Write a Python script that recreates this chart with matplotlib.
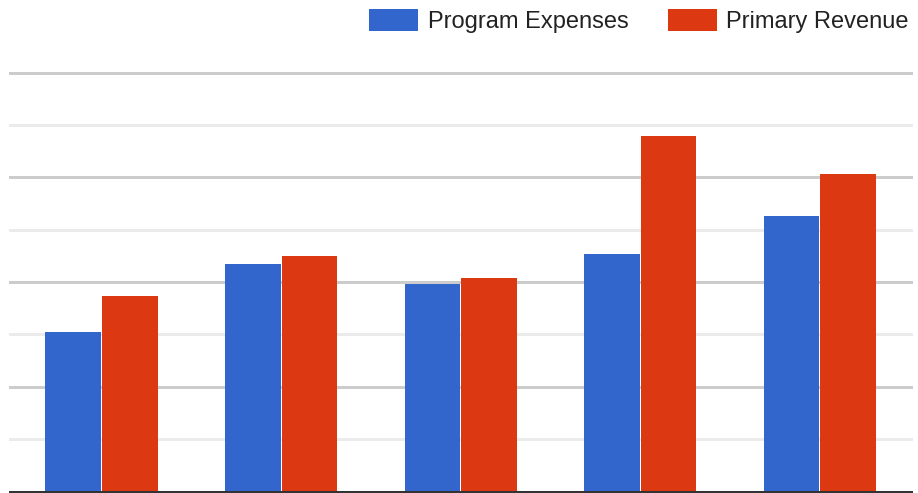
import matplotlib
matplotlib.use("Agg")
import matplotlib.pyplot as plt
import numpy as np

# values (axis has no labels; units = one gridline step)
categories = ["A", "B", "C", "D", "E"]
program_expenses = [3.05, 4.34, 3.96, 4.53, 5.26]
primary_revenue = [3.73, 4.50, 4.08, 6.79, 6.06]
series_names = ["Program Expenses", "Primary Revenue"]
colors = ["#3366cc", "#dc3912"]

plt.rcParams["font.family"] = ["Liberation Sans", "DejaVu Sans"]

W, H, DPI = 918, 493, 100
fig = plt.figure(figsize=(W / DPI, H / DPI), dpi=DPI)
px = 72 / DPI  # points per pixel

# plot area: x 10..911 px, baseline at 491.5 px from top, top at 60 px
step = 52.375
slot = 179.5
top_px, base_px = 60, 491.5
ax = fig.add_axes([10 / W, (H - base_px) / H, 901 / W, (base_px - top_px) / H])
ax.set_ylim(0, (base_px - top_px) / step)
x0 = -(101.5 - 10) / slot
ax.set_xlim(x0, x0 + 901 / slot)

# gridlines: alternating light / darker
for y in range(1, 9):
    ax.axhline(y, color="#cccccc" if y % 2 == 0 else "#ebebeb",
               lw=3 * px, zorder=0, clip_on=False)
ax.axhline(0, color="#333333", lw=3 * px, zorder=3, clip_on=False)

x = np.arange(len(categories))
bw = 55.5 / slot
off = 0.5 / slot + bw / 2
b1 = ax.bar(x - off, program_expenses, bw, color=colors[0], zorder=2,
            label=series_names[0])
b2 = ax.bar(x + off, primary_revenue, bw, color=colors[1], zorder=2,
            label=series_names[1])

ax.set_xticks([])
ax.set_yticks([])
for s in ax.spines.values():
    s.set_visible(False)

fs = 17
fpx = fs / px
fig.legend(handles=[b1, b2], loc="upper right",
           bbox_to_anchor=(909 / W, 1 - 9 / H), ncol=2, frameon=False,
           fontsize=fs, handlelength=49 / fpx, handleheight=25 / fpx,
           handletextpad=10 / fpx, columnspacing=39 / fpx, borderpad=0,
           borderaxespad=0, labelcolor="#222222")

fig.savefig("out.png", dpi=DPI)
